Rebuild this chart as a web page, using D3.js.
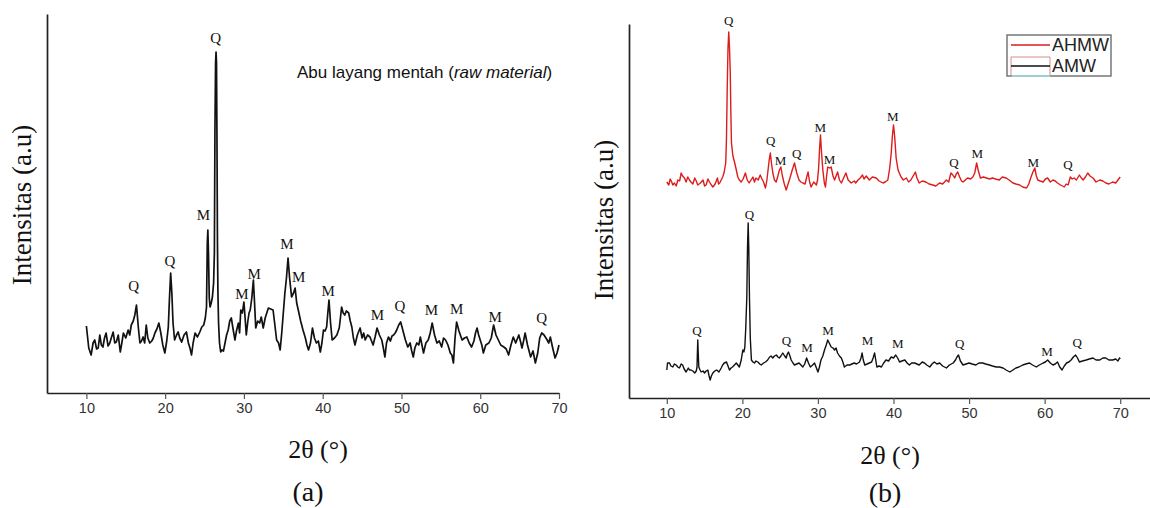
<!DOCTYPE html>
<html>
<head>
<meta charset="utf-8">
<script src="https://cdn.jsdelivr.net/npm/d3@7"></script>
<style>
  html, body { margin: 0; padding: 0; background: #fff; }
  svg { display: block; }
</style>
</head>
<body>
<svg id="fig" width="1150" height="508"></svg>
<script>
// ---- data: 2θ (degrees) vs. intensity (a.u.) ----
const xTicks = [10, 20, 30, 40, 50, 60, 70];

// (a) raw fly ash
const rawPattern = [[10.0,67],[10.3,45],[10.6,38],[10.85,50],[11.06,53],[11.3,44],[11.5,45],[11.7,58],[11.9,48],[12.1,46],[12.3,55],[12.5,60],[12.75,47],[12.97,50],[13.2,56],[13.4,61],[13.6,50],[13.8,51],[14.05,58],[14.3,41],[14.5,50],[14.7,60],[15.0,55],[15.3,63],[15.5,58],[15.7,68],[15.95,72],[16.15,78],[16.36,88],[16.6,65],[16.8,50],[17.0,52],[17.2,56],[17.4,50],[17.6,68],[17.8,55],[18.05,50],[18.3,52],[18.5,55],[18.7,60],[18.95,64],[19.2,70],[19.45,60],[19.7,48],[19.96,40],[20.2,52],[20.4,66],[20.55,95],[20.7,120],[20.85,100],[21.0,70],[21.2,53],[21.45,58],[21.65,61],[21.85,55],[22.1,51],[22.4,58],[22.7,61],[22.95,50],[23.15,45],[23.35,38],[23.55,50],[23.8,60],[24.1,56],[24.4,61],[24.65,66],[24.9,68],[25.1,75],[25.25,86],[25.35,150],[25.42,163],[25.5,140],[25.6,95],[25.7,86],[25.85,90],[26.0,96],[26.15,110],[26.25,140],[26.32,260],[26.4,330],[26.46,341],[26.52,330],[26.58,250],[26.64,150],[26.7,100],[26.78,70],[26.9,50],[27.05,41],[27.2,43],[27.4,42],[27.6,50],[27.8,58],[28.0,63],[28.2,72],[28.4,75],[28.6,65],[28.86,53],[29.05,62],[29.3,70],[29.45,60],[29.6,83],[29.8,80],[30.0,91],[30.15,75],[30.3,58],[30.5,72],[30.65,80],[30.8,83],[31.0,95],[31.2,113],[31.35,90],[31.5,65],[31.75,72],[32.0,70],[32.2,76],[32.45,65],[32.7,75],[32.9,80],[33.1,85],[33.4,84],[33.7,83],[33.9,70],[34.15,53],[34.4,50],[34.6,43],[34.8,60],[35.0,80],[35.2,100],[35.4,115],[35.6,135],[35.8,115],[36.05,96],[36.3,100],[36.5,105],[36.7,90],[36.9,83],[37.2,72],[37.5,63],[37.8,55],[38.0,48],[38.2,43],[38.45,50],[38.7,65],[38.95,55],[39.2,50],[39.45,52],[39.7,41],[39.9,50],[40.1,63],[40.3,62],[40.5,66],[40.65,80],[40.8,93],[41.0,70],[41.2,53],[41.5,55],[41.8,58],[42.1,65],[42.25,75],[42.4,86],[42.6,80],[42.8,78],[43.0,82],[43.3,80],[43.5,72],[43.7,66],[43.9,55],[44.1,48],[44.4,58],[44.75,65],[45.0,55],[45.2,60],[45.4,53],[45.7,58],[46.0,56],[46.2,52],[46.4,48],[46.65,56],[46.9,65],[47.2,58],[47.5,53],[47.7,45],[47.9,36],[48.1,50],[48.35,56],[48.6,52],[48.8,57],[49.0,58],[49.2,60],[49.4,63],[49.65,68],[49.9,71],[50.2,62],[50.5,53],[50.8,46],[51.1,50],[51.3,42],[51.5,36],[51.7,45],[51.95,50],[52.2,48],[52.4,56],[52.6,48],[52.8,40],[53.1,50],[53.4,53],[53.65,60],[53.9,70],[54.2,58],[54.5,50],[54.8,52],[55.1,46],[55.35,55],[55.6,53],[55.9,48],[56.2,40],[56.4,38],[56.6,30],[56.8,55],[57.0,71],[57.3,62],[57.7,53],[58.0,55],[58.3,56],[58.6,50],[58.9,46],[59.2,52],[59.4,60],[59.6,65],[59.8,58],[60.0,53],[60.2,48],[60.4,40],[60.7,48],[61.1,50],[61.4,55],[61.7,68],[62.0,58],[62.3,53],[62.6,48],[63.0,46],[63.3,44],[63.6,38],[63.9,48],[64.2,56],[64.5,50],[64.9,58],[65.1,52],[65.3,45],[65.5,52],[65.7,60],[66.0,48],[66.4,36],[66.7,42],[67.0,30],[67.3,40],[67.55,55],[67.8,60],[68.1,58],[68.5,53],[68.7,50],[68.9,56],[69.2,45],[69.5,35],[69.75,40],[70.0,48]];

// peak labels for (a): [phase, 2θ, label height]
const rawPeaks = [["Q",16.0,107],["Q",20.6,132],["M",24.85,178],["Q",26.4,355],["M",29.75,99],["M",31.3,119],["M",35.45,149],["M",36.95,116],["M",40.7,102],["M",46.95,78],["Q",49.8,87],["M",53.8,83],["M",57.0,84],["M",61.9,76],["Q",67.8,75]];

// (b) activated samples, plotted stacked
const ahmwPattern = [[10.0,216],[10.27,213],[10.45,219],[10.6,217],[10.8,213],[11.02,215],[11.25,212],[11.46,218],[11.7,217],[11.9,225],[12.1,222],[12.34,220],[12.55,216],[12.78,221],[13.0,218],[13.2,216],[13.45,214],[13.7,220],[13.9,217],[14.1,213],[14.45,215],[14.8,218],[15.0,212],[15.2,213],[15.45,219],[15.65,216],[15.9,213],[16.1,211],[16.4,214],[16.7,220],[16.85,214],[17.0,215],[17.2,218],[17.4,221],[17.6,226],[17.8,235],[17.9,260],[18.0,311],[18.1,350],[18.2,366],[18.3,350],[18.4,325],[18.48,285],[18.56,255],[18.75,242],[18.96,236],[19.2,228],[19.4,221],[19.6,218],[19.85,216],[20.1,219],[20.4,225],[20.65,218],[20.9,215],[21.15,218],[21.4,221],[21.6,216],[21.8,220],[22.1,218],[22.36,223],[22.6,219],[22.8,216],[23.06,210],[23.25,218],[23.4,228],[23.55,238],[23.7,245],[23.85,235],[24.03,225],[24.25,218],[24.47,216],[24.7,222],[24.9,228],[25.1,231],[25.3,222],[25.55,214],[25.8,208],[26.05,214],[26.3,220],[26.6,228],[26.9,235],[27.2,225],[27.5,218],[27.75,216],[28.0,215],[28.3,214],[28.55,222],[28.7,226],[28.9,216],[29.1,211],[29.45,216],[29.8,213],[29.95,218],[30.1,231],[30.22,250],[30.34,263],[30.48,245],[30.65,228],[30.85,215],[31.0,211],[31.15,222],[31.3,231],[31.55,230],[31.75,231],[32.0,222],[32.2,218],[32.4,222],[32.6,226],[32.85,218],[33.1,215],[33.4,220],[33.7,225],[34.0,218],[34.4,215],[34.8,217],[35.0,215],[35.3,218],[35.6,220],[35.9,223],[36.1,219],[36.4,222],[36.8,218],[37.2,221],[37.7,220],[38.1,217],[38.6,215],[38.9,216],[39.25,218],[39.5,230],[39.7,245],[39.85,262],[40.0,273],[40.15,262],[40.35,240],[40.6,228],[41.0,221],[41.3,218],[41.7,220],[42.0,216],[42.3,218],[42.6,222],[42.9,226],[43.1,220],[43.4,215],[43.8,217],[44.3,216],[44.7,214],[45.2,213],[45.6,212],[46.1,215],[46.5,214],[47.0,218],[47.3,216],[47.6,225],[47.85,223],[48.1,220],[48.3,224],[48.5,226],[48.75,221],[49.0,217],[49.2,216],[49.5,218],[49.8,220],[50.2,219],[50.5,221],[50.75,225],[51.0,235],[51.2,228],[51.5,220],[51.9,221],[52.3,220],[52.7,219],[53.1,220],[53.5,219],[54.0,218],[54.4,221],[54.9,220],[55.3,218],[55.8,215],[56.2,214],[56.7,213],[57.1,211],[57.6,210],[57.9,214],[58.2,221],[58.45,226],[58.7,230],[58.9,222],[59.1,218],[59.4,217],[59.8,216],[60.1,219],[60.4,220],[60.75,216],[61.1,218],[61.4,217],[61.7,215],[62.1,213],[62.6,211],[62.85,214],[63.1,213],[63.4,221],[63.65,219],[63.9,220],[64.2,218],[64.6,223],[64.85,220],[65.1,218],[65.4,221],[65.7,225],[66.0,222],[66.4,220],[66.8,216],[67.3,218],[67.7,217],[68.1,215],[68.5,214],[69.0,216],[69.4,215],[69.7,218],[69.9,220],[70.0,221]];

const amwPattern = [[10.0,28],[10.1,35],[10.36,35],[10.55,32],[10.8,31],[11.0,34],[11.24,33],[11.45,31],[11.68,30],[11.9,34],[12.1,33],[12.3,29],[12.56,26],[12.85,30],[13.0,28],[13.2,28],[13.45,27],[13.7,25],[13.9,27],[14.0,31],[14.05,45],[14.1,58],[14.16,45],[14.24,31],[14.4,28],[14.55,26],[14.8,27],[15.0,25],[15.2,27],[15.43,28],[15.6,22],[15.74,18],[15.9,22],[16.09,25],[16.35,27],[16.6,28],[16.9,26],[17.2,30],[17.4,33],[17.6,35],[17.9,36],[18.1,32],[18.3,28],[18.5,30],[18.7,31],[18.95,33],[19.2,35],[19.4,33],[19.6,31],[19.85,38],[20.06,48],[20.2,46],[20.33,51],[20.45,70],[20.59,101],[20.68,150],[20.77,175],[20.85,150],[20.94,101],[21.05,60],[21.2,38],[21.4,36],[21.6,35],[21.8,37],[22.05,36],[22.3,34],[22.5,33],[22.8,35],[23.06,36],[23.35,38],[23.6,41],[23.8,42],[24.03,40],[24.25,42],[24.5,43],[24.7,41],[24.9,40],[25.1,42],[25.35,45],[25.6,42],[25.8,40],[25.95,44],[26.1,46],[26.3,42],[26.46,38],[26.7,35],[26.9,33],[27.2,34],[27.5,35],[27.75,33],[28.0,31],[28.25,34],[28.5,40],[28.75,35],[29.0,31],[29.3,33],[29.55,35],[29.8,30],[30.0,26],[30.2,31],[30.4,38],[30.65,42],[30.87,48],[31.1,53],[31.3,58],[31.5,55],[31.75,51],[32.0,50],[32.2,48],[32.4,50],[32.6,45],[32.85,42],[33.1,40],[33.3,36],[33.5,31],[33.85,33],[34.2,33],[34.5,34],[34.8,35],[35.1,34],[35.5,36],[35.7,40],[35.85,45],[36.0,38],[36.2,33],[36.5,34],[36.8,35],[37.1,36],[37.3,40],[37.5,45],[37.65,38],[37.8,31],[38.1,32],[38.4,31],[38.7,35],[39.0,38],[39.35,37],[39.7,41],[40.0,40],[40.3,43],[40.55,40],[40.8,36],[41.1,37],[41.5,38],[41.8,35],[42.1,33],[42.4,35],[42.8,35],[43.1,34],[43.4,33],[43.8,36],[44.1,35],[44.4,33],[44.8,31],[45.1,34],[45.4,36],[45.75,34],[46.1,35],[46.5,32],[47.0,30],[47.4,33],[47.9,35],[48.2,38],[48.4,41],[48.6,43],[48.85,37],[49.2,33],[49.6,34],[50.0,35],[50.4,34],[50.9,33],[51.3,35],[51.8,35],[52.2,34],[52.7,33],[53.1,32],[53.6,31],[54.0,31],[54.5,30],[54.9,28],[55.4,26],[55.8,28],[56.2,30],[56.6,31],[57.1,33],[57.5,34],[58.0,35],[58.4,33],[58.9,31],[59.3,33],[59.8,35],[60.1,36],[60.4,38],[60.75,35],[61.1,33],[61.4,34],[61.7,36],[62.0,31],[62.3,28],[62.6,32],[62.9,35],[63.2,36],[63.5,38],[63.8,41],[64.1,43],[64.35,40],[64.6,36],[65.0,37],[65.5,38],[65.9,39],[66.4,40],[66.8,38],[67.3,38],[67.7,40],[68.1,40],[68.5,38],[69.0,38],[69.4,39],[69.7,37],[69.9,40],[70.0,39]];

const ahmwPeaks = [["Q",18.2,378],["Q",23.75,258],["M",25.05,238],["Q",27.2,245],["M",30.3,271],["M",31.55,239],["M",39.9,282],["Q",48.0,236],["M",51.1,245],["M",58.5,236],["Q",63.1,234]];
const amwPeaks  = [["Q",14.0,68],["Q",20.95,184],["Q",25.85,58],["M",28.55,51],["M",31.35,68],["M",36.55,58],["M",40.55,55],["Q",48.75,55],["M",60.3,47],["Q",64.3,56]];

const seriesNames = ["AHMW", "AMW"];
const seriesColors = ["#dd1c1c", "#111111"];

// ---- drawing ----
const svg = d3.select("#fig");
const serif = "'Times New Roman', 'Liberation Serif', serif";
const sans = "Arial, 'Liberation Sans', sans-serif";

function panel(cfg) {
  const g = svg.append("g");
  const x = d3.scaleLinear().domain(cfg.xDomain).range(cfg.xRange);
  const y = d3.scaleLinear().domain(cfg.yDomain).range(cfg.yRange);

  // x axis
  const ax = g.append("g")
    .attr("transform", `translate(0,${cfg.yRange[0]})`)
    .call(d3.axisBottom(x).tickValues(xTicks).tickSize(6).tickSizeOuter(0).tickPadding(4));
  ax.select(".domain").attr("stroke", "#222").attr("stroke-width", 1.7);
  ax.selectAll(".tick line").attr("stroke", "#555").attr("stroke-width", 1.2);
  ax.selectAll(".tick text").attr("font-family", sans).attr("font-size", 14.5).attr("fill", "#333");

  // y axis (no ticks)
  const ay = g.append("g")
    .attr("transform", `translate(${cfg.xRange[0]},0)`)
    .call(d3.axisLeft(y).tickValues([]).tickSizeOuter(0));
  ay.select(".domain").attr("stroke", "#222").attr("stroke-width", 1.7);

  const line = d3.line().x(d => x(d[0])).y(d => y(d[1]));
  cfg.series.forEach(s => {
    g.append("path").datum(s.data)
      .attr("fill", "none").attr("stroke", s.color)
      .attr("stroke-width", cfg.lineWidth).attr("stroke-linejoin", "round")
      .attr("d", line);
    g.selectAll(null).data(s.peaks).enter().append("text")
      .attr("x", d => x(d[1])).attr("y", d => y(d[2]))
      .attr("text-anchor", "middle").attr("dominant-baseline", "central")
      .attr("font-family", serif).attr("font-size", cfg.peakFont).attr("fill", "#111")
      .text(d => d[0]);
  });

  // axis titles and panel letter
  g.append("text")
    .attr("transform", `translate(${cfg.yTitle[0]},${cfg.yTitle[1]}) rotate(-90)`)
    .attr("text-anchor", "middle").attr("dominant-baseline", "central")
    .attr("font-family", serif).attr("font-size", 27).attr("fill", "#111")
    .text("Intensitas (a.u)");
  g.append("text")
    .attr("x", cfg.xTitle[0]).attr("y", cfg.xTitle[1])
    .attr("text-anchor", "middle").attr("dominant-baseline", "central")
    .attr("font-family", serif).attr("font-size", 26).attr("fill", "#111")
    .text("2\u03B8 (\u00B0)");
  g.append("text")
    .attr("x", cfg.letter[0]).attr("y", cfg.letter[1])
    .attr("text-anchor", "middle").attr("dominant-baseline", "central")
    .attr("font-family", serif).attr("font-size", 28).attr("fill", "#111")
    .text(cfg.letter[2]);
  return g;
}

// (a)
const gA = panel({
  xDomain: [5, 70], xRange: [47, 559],
  yDomain: [0, 379], yRange: [393, 14],
  lineWidth: 1.7, peakFont: 15,
  series: [{ data: rawPattern, color: "#111", peaks: rawPeaks }],
  yTitle: [22, 205], xTitle: [318, 449], letter: [308, 491, "(a)"]
});
gA.append("text")
  .attr("x", 297).attr("y", 72).attr("dominant-baseline", "central")
  .attr("font-family", sans).attr("font-size", 17).attr("fill", "#111")
  .call(t => {
    t.append("tspan").text("Abu layang mentah (");
    t.append("tspan").attr("font-style", "italic").text("raw material");
    t.append("tspan").text(")");
  });

// (b)
panel({
  xDomain: [5, 75], xRange: [629, 1158],
  yDomain: [0, 374], yRange: [398, 24],
  lineWidth: 1.4, peakFont: 13,
  series: [
    { data: ahmwPattern, color: seriesColors[0], peaks: ahmwPeaks },
    { data: amwPattern, color: seriesColors[1], peaks: amwPeaks }
  ],
  yTitle: [604, 220], xTitle: [890, 455], letter: [885, 492, "(b)"]
});

// legend for (b)
const lg = svg.append("g");
lg.append("rect").attr("x", 1007).attr("y", 35).attr("width", 104).attr("height", 41)
  .attr("fill", "#fff").attr("stroke", "#777").attr("stroke-width", 1.5);
// a faint outline remains around the second swatch
lg.append("path").attr("d", "M1011,75 V57 H1050 V75")
  .attr("fill", "none").attr("stroke", "#d98a8a").attr("stroke-width", 1);
lg.append("line").attr("x1", 1012).attr("x2", 1050).attr("y1", 76).attr("y2", 76)
  .attr("stroke", "#9fe3e8").attr("stroke-width", 1.5);
seriesNames.forEach((name, i) => {
  const yy = 45 + i * 21;
  lg.append("line").attr("x1", 1011).attr("x2", 1050).attr("y1", yy).attr("y2", yy)
    .attr("stroke", seriesColors[i]).attr("stroke-width", 1.5);
  lg.append("text").attr("x", 1052).attr("y", yy).attr("dominant-baseline", "central")
    .attr("font-family", sans).attr("font-size", 18).attr("fill", "#222").text(name);
});
</script>
</body>
</html>
